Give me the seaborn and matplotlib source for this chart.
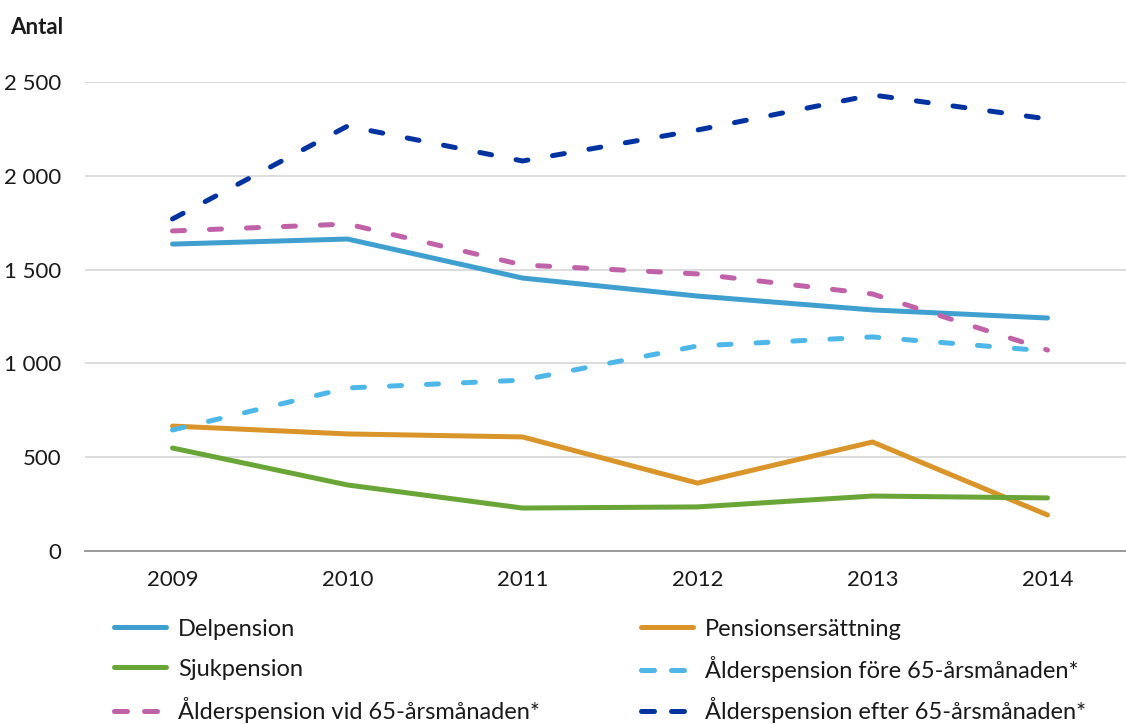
import matplotlib
matplotlib.use("Agg")
import matplotlib.pyplot as plt
import matplotlib.ticker as mticker
from matplotlib.lines import Line2D
import seaborn as sns
import pandas as pd

years = ["2009", "2010", "2011", "2012", "2013", "2014"]
delpension = [1636, 1663, 1455, 1359, 1285, 1242]
pensionsersattning = [666, 624, 608, 362, 581, 192]
sjukpension = [549, 352, 229, 235, 293, 283]
alder_fore = [645, 869, 911, 1093, 1141, 1066]
alder_vid = [1706, 1743, 1525, 1477, 1370, 1071]
alder_efter = [1770, 2265, 2079, 2244, 2431, 2303]

series_names = [
    "Delpension",
    "Pensionsersättning",
    "Sjukpension",
    "Ålderspension före 65-årsmånaden*",
    "Ålderspension vid 65-årsmånaden*",
    "Ålderspension efter 65-årsmånaden*",
]
series_values = [delpension, pensionsersattning, sjukpension,
                 alder_fore, alder_vid, alder_efter]
colors = ["#3FA0CF", "#D9952A", "#6AA537", "#4FB7E8", "#C062A8", "#0033A0"]
y_ticks = [0, 500, 1000, 1500, 2000, 2500]

rows = []
for name, vals in zip(series_names, series_values):
    for i, (yr, v) in enumerate(zip(years, vals)):
        rows.append({"x": i, "Year": yr, "Antal": v, "Serie": name})
df = pd.DataFrame(rows)

sns.set_theme(style="white")
plt.rcParams["font.family"] = ["Lato", "DejaVu Sans"]

fig = plt.figure(figsize=(11.26, 7.24), dpi=100)
W, H = 1126, 724
ax = fig.add_axes([85 / W, (H - 551) / H, (1135 - 85) / W, (551 - 82) / H])

lw = 3.6
dash_pat = (2.4, 5.0)
dashes = {n: ("" if i < 3 else dash_pat) for i, n in enumerate(series_names)}
palette = dict(zip(series_names, colors))

sns.lineplot(data=df, x="x", y="Antal", hue="Serie", style="Serie",
             hue_order=series_names, style_order=series_names,
             palette=palette, dashes=dashes, linewidth=lw, ax=ax,
             legend=False)
for line in ax.lines:
    line.set_dash_capstyle("round")
    line.set_solid_capstyle("round")
    line.set_solid_joinstyle("round")
    line.set_clip_on(False)

ax.set_xlim(-0.5, 5.5)
ax.set_ylim(0, 2500)
ax.set_yticks(y_ticks)
ax.yaxis.set_major_formatter(mticker.FuncFormatter(
    lambda v, p: f"{int(v):,}".replace(",", " ")))
ax.set_xticks(range(len(years)))
ax.set_xticklabels(years)
ax.set_xticks([i - 0.5 for i in range(len(years) + 1)], minor=True)
ax.tick_params(axis="x", which="major", length=0, pad=14, labelsize=16, colors="#1a1a1a")
ax.tick_params(axis="x", which="minor", length=6, width=1.2, color="#9a9a9a", direction="out")
ax.tick_params(axis="y", length=0, pad=17, labelsize=16, colors="#1a1a1a")
ax.set_xlabel("")
ax.set_ylabel("")
ax.grid(axis="y", color="#D9D9D9", linewidth=1.3)
ax.set_axisbelow(True)
for s in ["top", "right", "left"]:
    ax.spines[s].set_visible(False)
ax.spines["bottom"].set_color("#9a9a9a")
ax.spines["bottom"].set_linewidth(1.4)

fig.text(10 / W, 1 - 27 / H, "Antal", fontsize=16, fontweight="bold",
         va="center", ha="left", color="#1a1a1a")

# Legend: one entry per legend so each row sits at an exact height
legend_cols = [114, 641]
legend_rows = [629, 669, 710]
for i, (n, c) in enumerate(zip(series_names, colors)):
    h = Line2D([0], [0], color=c, linewidth=lw,
               linestyle="-" if i < 3 else (0, (2.6, 3.4)),
               dash_capstyle="round", solid_capstyle="round")
    col, row = i % 2, i // 2
    leg = fig.legend([h], [n], loc="center left",
                     bbox_to_anchor=(legend_cols[col] / W, 1 - legend_rows[row] / H),
                     frameon=False, fontsize=17, handlelength=2.2,
                     handletextpad=0.5, borderaxespad=0, borderpad=0)
    for t in leg.get_texts():
        t.set_color("#1a1a1a")

fig.savefig("out.png", dpi=100)
